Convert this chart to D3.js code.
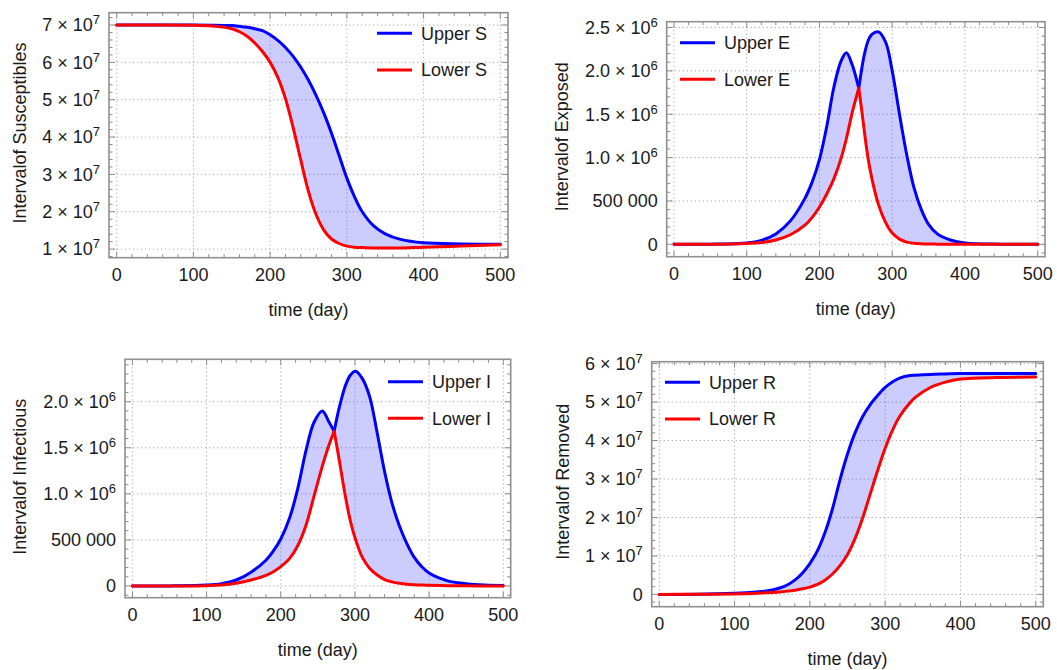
<!DOCTYPE html>
<html>
<head>
<meta charset="utf-8">
<script src="https://cdn.jsdelivr.net/npm/d3@7/dist/d3.min.js"></script>
<style>
  body { margin: 0; background: #fff; }
  svg text { font-family: "Liberation Sans", Arial, sans-serif; fill: #1a1a1a; }
</style>
</head>
<body>
<svg id="chart" width="1057" height="670"></svg>
<script>
// shared x axis
var xTicks = [0, 100, 200, 300, 400, 500]
var xTickLabels = ["0", "100", "200", "300", "400", "500"]

// Susceptibles (units of 1e7)
var sDays  = [0, 50, 100, 125, 140, 150, 160, 170, 180, 190, 200, 210, 220, 230, 240, 250, 260, 270, 280, 290, 300, 310, 320, 335, 350, 370, 400, 450, 500]
var sUpper = [7.0, 7.0, 7.0, 6.995, 6.99, 6.985, 6.965, 6.94, 6.9, 6.85, 6.74, 6.59, 6.4, 6.16, 5.87, 5.52, 5.11, 4.64, 4.1, 3.5, 2.9, 2.4, 2.0, 1.62, 1.41, 1.26, 1.17, 1.14, 1.13]
var sLower = [7.0, 7.0, 6.995, 6.975, 6.94, 6.9, 6.82, 6.7, 6.52, 6.29, 6.0, 5.6, 5.03, 4.25, 3.38, 2.54, 1.92, 1.51, 1.27, 1.15, 1.08, 1.05, 1.04, 1.03, 1.03, 1.03, 1.05, 1.08, 1.12]
var sYTicks = [1, 2, 3, 4, 5, 6, 7]
var sYLabels = ["1×10^7", "2×10^7", "3×10^7", "4×10^7", "5×10^7", "6×10^7", "7×10^7"]

// Exposed (units of 1e6)
var eDays  = [0, 50, 100, 120, 140, 160, 180, 190, 200, 210, 220, 230, 237, 245, 250, 254, 258, 262, 267, 272, 281, 291, 300, 310, 320, 330, 340, 350, 362, 380, 400, 450, 500]
var eUpper = [0, 0.001, 0.015, 0.045, 0.12, 0.27, 0.53, 0.72, 0.98, 1.36, 1.82, 2.12, 2.21, 2.07, 1.93, 1.80, 2.02, 2.2, 2.35, 2.42, 2.45, 2.33, 2.0, 1.5, 1.03, 0.65, 0.4, 0.23, 0.12, 0.05, 0.016, 0.002, 0]
var eLower = [0, 0.0005, 0.01, 0.02, 0.05, 0.11, 0.22, 0.31, 0.43, 0.58, 0.76, 1.0, 1.22, 1.52, 1.68, 1.80, 1.55, 1.28, 0.98, 0.76, 0.46, 0.25, 0.13, 0.06, 0.025, 0.012, 0.006, 0.003, 0.002, 0.001, 0, 0, 0]
var eCusp = 254
var eYTicks = [0, 0.5, 1, 1.5, 2, 2.5]
var eYLabels = ["0", "500 000", "1.0×10^6", "1.5×10^6", "2.0×10^6", "2.5×10^6"]

// Infectious (units of 1e6)
var iDays  = [0, 50, 100, 120, 140, 160, 180, 190, 200, 212, 223, 234, 245, 256, 265, 272, 279, 287, 294, 301, 310, 320, 330, 340, 350, 360, 370, 380, 390, 400, 425, 450, 475, 500]
var iUpper = [0, 0.001, 0.01, 0.025, 0.065, 0.15, 0.28, 0.38, 0.51, 0.74, 1.06, 1.47, 1.78, 1.90, 1.78, 1.68, 1.94, 2.17, 2.29, 2.33, 2.25, 2.05, 1.66, 1.24, 0.9, 0.65, 0.46, 0.31, 0.21, 0.14, 0.055, 0.025, 0.01, 0.005]
var iLower = [0, 0, 0.004, 0.01, 0.03, 0.065, 0.115, 0.155, 0.21, 0.3, 0.44, 0.66, 0.98, 1.3, 1.53, 1.68, 1.36, 0.98, 0.7, 0.5, 0.31, 0.19, 0.12, 0.07, 0.045, 0.03, 0.02, 0.014, 0.01, 0.008, 0.004, 0.002, 0.001, 0]
var iCusp = 272
var iYTicks = [0, 0.5, 1, 1.5, 2]
var iYLabels = ["0", "500 000", "1.0×10^6", "1.5×10^6", "2.0×10^6"]

// Removed (units of 1e7)
var rDays  = [0, 50, 100, 125, 140, 150, 160, 170, 180, 190, 200, 210, 220, 230, 240, 250, 260, 270, 280, 290, 300, 310, 320, 333, 340, 360, 380, 400, 450, 500]
var rUpper = [0, 0.005, 0.03, 0.055, 0.085, 0.115, 0.165, 0.245, 0.37, 0.55, 0.8, 1.13, 1.6, 2.22, 2.98, 3.65, 4.2, 4.62, 4.93, 5.17, 5.38, 5.53, 5.63, 5.69, 5.7, 5.72, 5.73, 5.74, 5.74, 5.74]
var rLower = [0, 0.002, 0.01, 0.025, 0.04, 0.05, 0.065, 0.085, 0.11, 0.145, 0.19, 0.26, 0.37, 0.53, 0.75, 1.04, 1.45, 1.98, 2.6, 3.22, 3.8, 4.28, 4.65, 4.98, 5.12, 5.38, 5.52, 5.6, 5.64, 5.65]
var rYTicks = [0, 1, 2, 3, 4, 5, 6]
var rYLabels = ["0", "1×10^7", "2×10^7", "3×10^7", "4×10^7", "5×10^7", "6×10^7"]

var panels = [
  { days: sDays, upper: sUpper, lower: sLower, cusp: null,
    frame: { l: 109, r: 508, t: 12.7, b: 257.7 }, yDomain: [0.77, 7.33], yMinor: 0.2,
    yTicks: sYTicks, yLabels: sYLabels, title: "Intervalof Susceptibles", titleX: 20, titleY: 133,
    legend: ["Upper S", "Lower S"], legendX: 377, legendY: 33.3 },
  { days: eDays, upper: eUpper, lower: eLower, cusp: eCusp,
    frame: { l: 666.7, r: 1045, t: 21.7, b: 256.7 }, yDomain: [-0.143, 2.567], yMinor: 0.1,
    yTicks: eYTicks, yLabels: eYLabels, title: "Intervalof Exposed", titleX: 561.7, titleY: 136.7,
    legend: ["Upper E", "Lower E"], legendX: 680, legendY: 42.7 },
  { days: iDays, upper: iUpper, lower: iLower, cusp: iCusp,
    frame: { l: 125, r: 510.7, t: 359.3, b: 597.7 }, yDomain: [-0.127, 2.46], yMinor: 0.1,
    yTicks: iYTicks, yLabels: iYLabels, title: "Intervalof Infectious", titleX: 20, titleY: 476.7,
    legend: ["Upper I", "Lower I"], legendX: 388, legendY: 381.7 },
  { days: rDays, upper: rUpper, lower: rLower, cusp: null,
    frame: { l: 651.7, r: 1043.3, t: 361.7, b: 606.7 }, yDomain: [-0.32, 6.05], yMinor: 0.2,
    yTicks: rYTicks, yLabels: rYLabels, title: "Intervalof Removed", titleX: 563, titleY: 481.7,
    legend: ["Upper R", "Lower R"], legendX: 665, legendY: 382.3 }
]

var blue = "#0000ff", red = "#ff0000"
var fontSize = 18
var lineW = 3
var svg = d3.select("#chart")

panels.forEach(function(p, k) {
  var f = p.frame
  var x = d3.scaleLinear().domain([-10, 510]).range([f.l, f.r])
  var y = d3.scaleLinear().domain(p.yDomain).range([f.b, f.t])
  var g = svg.append("g")

  g.append("clipPath").attr("id", "clip" + k)
    .append("rect").attr("x", f.l).attr("y", f.t).attr("width", f.r - f.l).attr("height", f.b - f.t)

  // dotted grid
  g.selectAll(".gx").data(xTicks).enter().append("line")
    .attr("x1", d => x(d)).attr("x2", d => x(d)).attr("y1", f.t).attr("y2", f.b)
    .attr("stroke", "#aaaaaa").attr("stroke-width", 1).attr("stroke-dasharray", "1.2,2.8")
  g.selectAll(".gy").data(p.yTicks).enter().append("line")
    .attr("y1", d => y(d)).attr("y2", d => y(d)).attr("x1", f.l).attr("x2", f.r)
    .attr("stroke", "#aaaaaa").attr("stroke-width", 1).attr("stroke-dasharray", "1.2,2.8")

  // split at the crossing point so the corner stays sharp
  var pts = p.days.map(function(d, i) { return { t: d, u: p.upper[i], l: p.lower[i] } })
  var segs = p.cusp == null ? [pts] : [pts.filter(d => d.t <= p.cusp), pts.filter(d => d.t >= p.cusp)]

  var curve = d3.curveCatmullRom.alpha(0.5)
  var plot = g.append("g").attr("clip-path", "url(#clip" + k + ")")
  var area = d3.area().curve(curve).x(d => x(d.t)).y0(d => y(d.l)).y1(d => y(d.u))
  var upLine = d3.line().curve(curve).x(d => x(d.t)).y(d => y(d.u))
  var loLine = d3.line().curve(curve).x(d => x(d.t)).y(d => y(d.l))

  segs.forEach(function(s) {
    plot.append("path").attr("d", area(s)).attr("fill", "rgba(0,0,255,0.2)").attr("stroke", "none")
  })
  segs.forEach(function(s) {
    plot.append("path").attr("d", upLine(s)).attr("fill", "none").attr("stroke", blue)
      .attr("stroke-width", lineW).attr("stroke-linecap", "round").attr("stroke-linejoin", "round")
  })
  segs.forEach(function(s) {
    plot.append("path").attr("d", loLine(s)).attr("fill", "none").attr("stroke", red)
      .attr("stroke-width", lineW).attr("stroke-linecap", "round").attr("stroke-linejoin", "round")
  })

  // frame ticks, all four sides, pointing inwards
  var xMinor = d3.range(20, 500, 20).filter(d => d % 100 != 0)
  var yMinor = d3.range(Math.ceil(p.yDomain[0] / p.yMinor), Math.floor(p.yDomain[1] / p.yMinor) + 1)
    .map(d => +(d * p.yMinor).toFixed(3))
    .filter(d => p.yTicks.indexOf(d) < 0)
  var tickCol = "#8c8c8c"
  function xt(vals, len) {
    vals.forEach(function(v) {
      g.append("line").attr("x1", x(v)).attr("x2", x(v)).attr("y1", f.b).attr("y2", f.b - len)
        .attr("stroke", tickCol).attr("stroke-width", 1)
      g.append("line").attr("x1", x(v)).attr("x2", x(v)).attr("y1", f.t).attr("y2", f.t + len)
        .attr("stroke", tickCol).attr("stroke-width", 1)
    })
  }
  function yt(vals, len) {
    vals.forEach(function(v) {
      g.append("line").attr("y1", y(v)).attr("y2", y(v)).attr("x1", f.l).attr("x2", f.l + len)
        .attr("stroke", tickCol).attr("stroke-width", 1)
      g.append("line").attr("y1", y(v)).attr("y2", y(v)).attr("x1", f.r).attr("x2", f.r - len)
        .attr("stroke", tickCol).attr("stroke-width", 1)
    })
  }
  xt(xTicks, 6); xt(xMinor, 3.5)
  yt(p.yTicks, 6); yt(yMinor, 3.5)

  g.append("rect").attr("x", f.l).attr("y", f.t).attr("width", f.r - f.l).attr("height", f.b - f.t)
    .attr("fill", "none").attr("stroke", "#8f8f8f").attr("stroke-width", 1.6)

  // x tick labels
  g.selectAll(".xl").data(xTicks).enter().append("text")
    .attr("x", d => x(d)).attr("y", f.b + 17).attr("dy", "0.35em")
    .attr("text-anchor", "middle").attr("font-size", fontSize)
    .text((d, i) => xTickLabels[i])

  // y tick labels, "^" marks the exponent
  p.yTicks.forEach(function(v, i) {
    var parts = p.yLabels[i].split("^")
    var t = g.append("text").attr("x", f.l - 9).attr("y", y(v)).attr("dy", "0.35em")
      .attr("text-anchor", "end").attr("font-size", fontSize)
    t.append("tspan").text(parts[0].replace("×", " × "))
    if (parts.length > 1) {
      t.append("tspan").attr("dy", -7).attr("font-size", 13).text(parts[1])
    }
  })

  // axis titles
  g.append("text").attr("x", (f.l + f.r) / 2).attr("y", f.b + 52).attr("dy", "0.35em")
    .attr("text-anchor", "middle").attr("font-size", fontSize).text("time (day)")
  g.append("text").attr("transform", "translate(" + p.titleX + "," + p.titleY + ") rotate(-90)")
    .attr("dy", "0.35em").attr("text-anchor", "middle").attr("font-size", fontSize).text(p.title)

  // legend
  p.legend.forEach(function(name, i) {
    var ly = p.legendY + i * 36.6
    g.append("line").attr("x1", p.legendX).attr("x2", p.legendX + 35).attr("y1", ly).attr("y2", ly)
      .attr("stroke", i == 0 ? blue : red).attr("stroke-width", lineW)
    g.append("text").attr("x", p.legendX + 44).attr("y", ly).attr("dy", "0.35em")
      .attr("font-size", fontSize).text(name)
  })
})
</script>
</body>
</html>
